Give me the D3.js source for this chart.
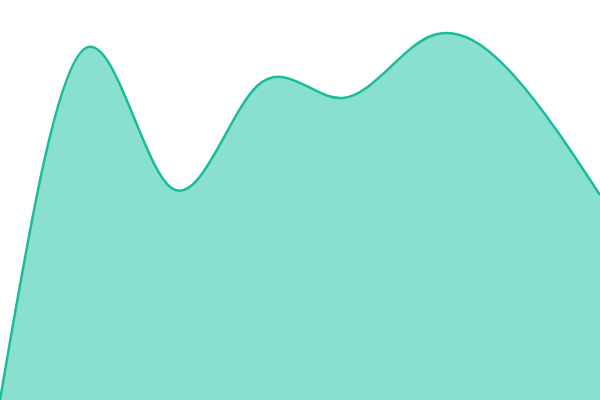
<!DOCTYPE html>
<html>
<head>
<meta charset="utf-8">
<script src="https://cdn.jsdelivr.net/npm/d3@7"></script>
<style>
  html, body { margin: 0; padding: 0; background: #fff; }
  svg { display: block; }
</style>
</head>
<body>
<div id="chart"></div>
<script>
// eight evenly spaced samples, value = height above the bottom edge
const steps = [0, 1, 2, 3, 4, 5, 6, 7];
const values = [0, 352, 212, 314, 302, 363, 324, 205];

const svg_width = 600, svg_height = 400;

let x = d3.scaleLinear().domain([0, 7]).range([0, svg_width]);
let y = d3.scaleLinear().domain([0, 400]).range([svg_height, 0]);

let svg = d3.select("#chart").append("svg")
    .attr("width", svg_width)
    .attr("height", svg_height);

const data = steps.map((d, i) => [d, values[i]]);
const curve = d3.curveNatural;

svg.append("path")
    .datum(data)
    .attr("fill", "#8ae0cf")
    .attr("d", d3.area()
        .x(d => x(d[0]))
        .y0(y(0))
        .y1(d => y(d[1]))
        .curve(curve));

svg.append("path")
    .datum(data)
    .attr("fill", "none")
    .attr("stroke", "#1abc9c")
    .attr("stroke-width", 2.5)
    .attr("d", d3.line()
        .x(d => x(d[0]))
        .y(d => y(d[1]))
        .curve(curve));
</script>
</body>
</html>
